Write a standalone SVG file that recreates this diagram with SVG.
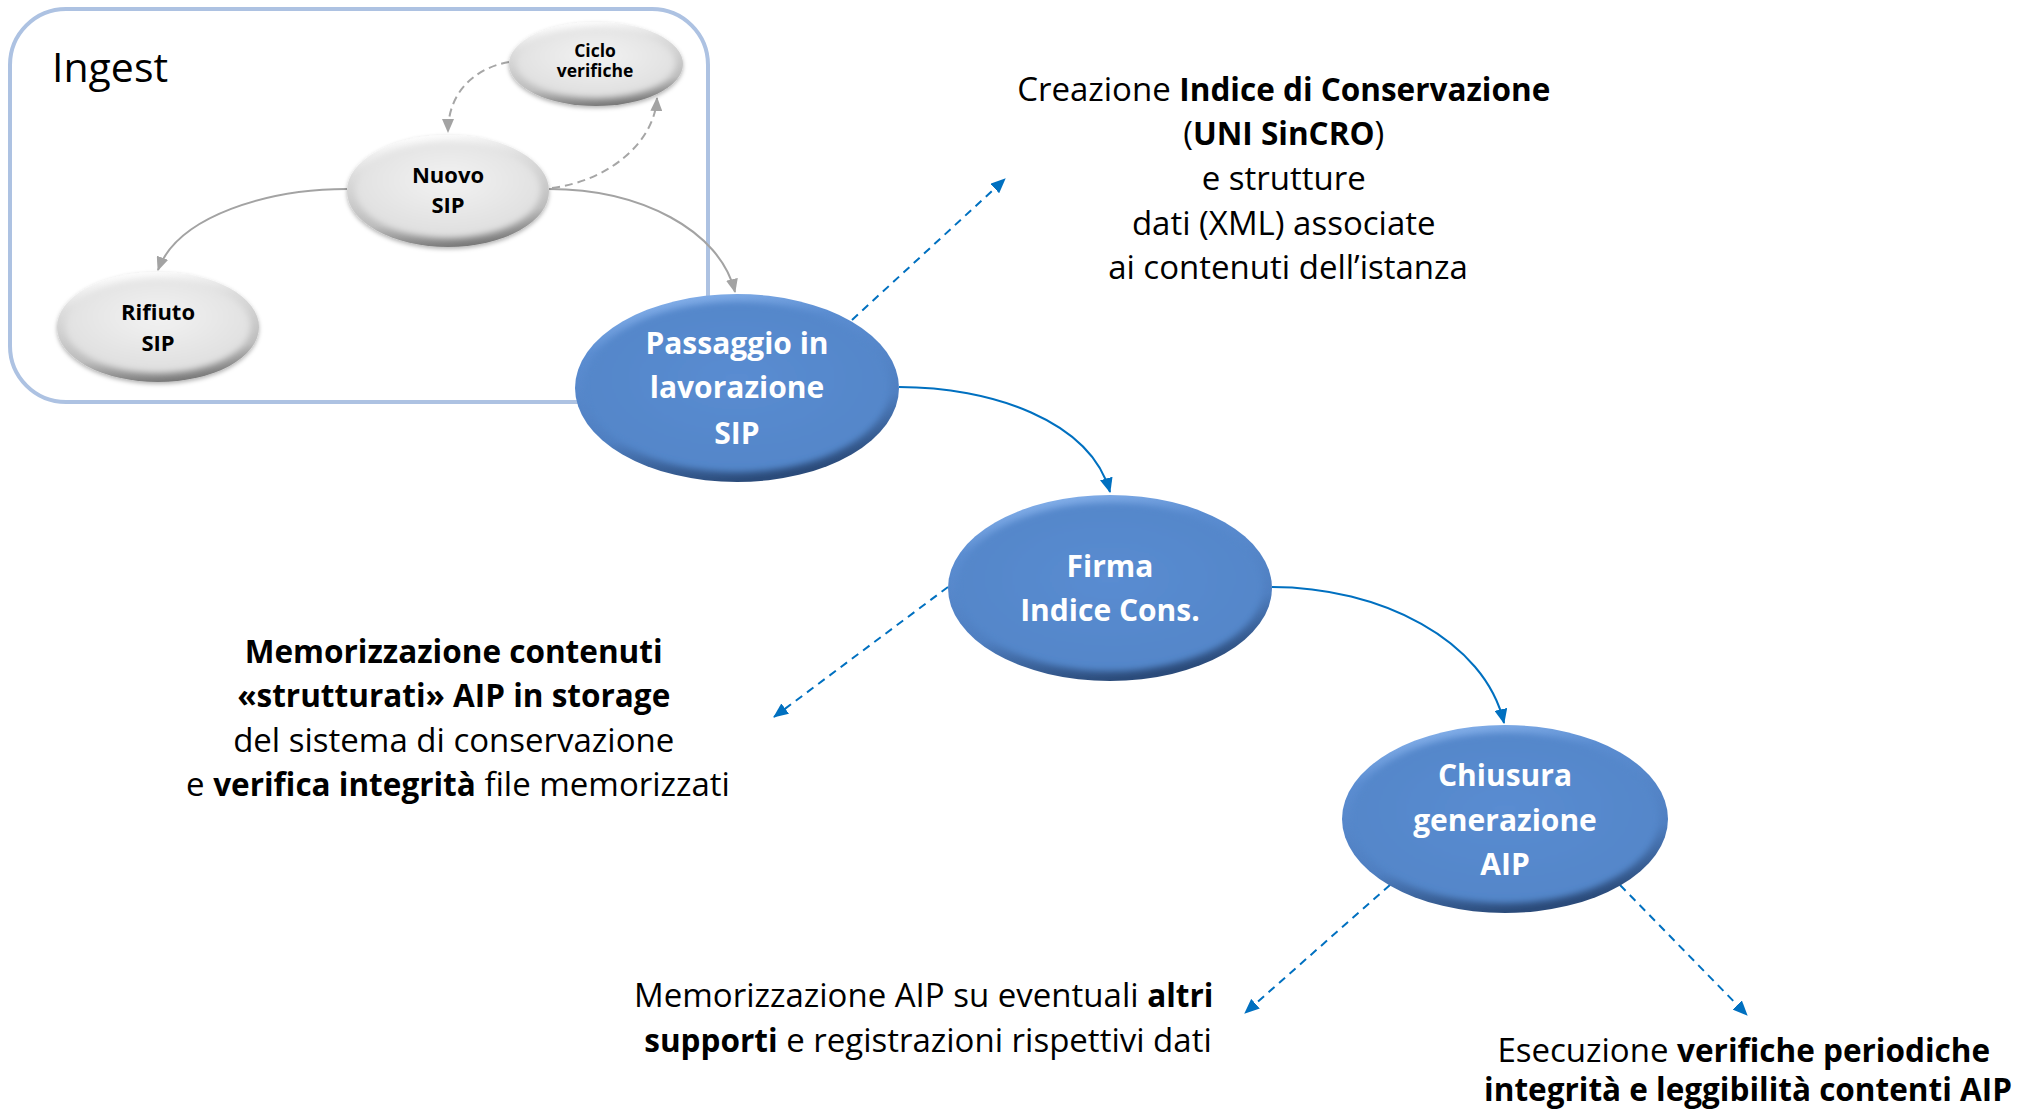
<svg xmlns="http://www.w3.org/2000/svg" width="2029" height="1111" viewBox="0 0 2029 1111">
  <style>
    text { font-family: "Open Sans", "Liberation Sans", sans-serif; }
    .desc { font-size: 33px; fill: #000; text-anchor: middle; }
    .b { font-weight: 700; font-size: 31.5px; }
    .lbl-blue { font-size: 30px; font-weight: 700; fill: #fff; text-anchor: middle; }
    .lbl-grey { font-size: 22px; font-weight: 700; fill: #000; text-anchor: middle; }
    .lbl-small { font-size: 17.5px; font-weight: 700; fill: #000; text-anchor: middle; }
    .rim-blue { fill: url(#blueRim); }
    .face-blue { fill: url(#blueFace); filter: url(#soft); }
    .rim-grey { fill: url(#greyRim); filter: url(#greyShadow); }
    .face-grey { fill: url(#greyFace); filter: url(#soft); }
    .c-grey { fill: none; stroke: #a3a3a3; stroke-width: 2; }
    .c-grey-dash { fill: none; stroke: #a6a6a6; stroke-width: 2; stroke-dasharray: 8 5; }
    .c-blue { fill: none; stroke: #0070c0; stroke-width: 2; }
    .c-blue-dash { fill: none; stroke: #0070c0; stroke-width: 2; stroke-dasharray: 8 6; }
  </style>
  <defs>
    <linearGradient id="blueRim" x1="0.2" y1="0" x2="0.5" y2="1">
      <stop offset="0" stop-color="#8cb6ee"/>
      <stop offset="0.25" stop-color="#5b8dd1"/>
      <stop offset="0.7" stop-color="#4f7fc1"/>
      <stop offset="1" stop-color="#2b4b7a"/>
    </linearGradient>
    <radialGradient id="blueFace" cx="0.5" cy="0.45" r="0.55">
      <stop offset="0" stop-color="#5a8cd1"/>
      <stop offset="1" stop-color="#5386c9"/>
    </radialGradient>
    <linearGradient id="greyRim" x1="0.3" y1="0" x2="0.5" y2="1">
      <stop offset="0" stop-color="#ffffff"/>
      <stop offset="0.3" stop-color="#dcdcdc"/>
      <stop offset="0.75" stop-color="#bcbcbc"/>
      <stop offset="1" stop-color="#7a7a7a"/>
    </linearGradient>
    <radialGradient id="greyFace" cx="0.5" cy="0.4" r="0.6">
      <stop offset="0" stop-color="#f2f2f2"/>
      <stop offset="1" stop-color="#dedede"/>
    </radialGradient>
    <filter id="soft" x="-10%" y="-10%" width="120%" height="120%">
      <feGaussianBlur stdDeviation="3"/>
    </filter>
    <filter id="greyShadow" x="-10%" y="-10%" width="120%" height="130%">
      <feDropShadow dx="0" dy="2" stdDeviation="2" flood-color="#000" flood-opacity="0.3"/>
    </filter>
    <marker id="ah-grey" viewBox="0 0 14 12" refX="13" refY="6" markerWidth="14" markerHeight="12" markerUnits="userSpaceOnUse" orient="auto">
      <path d="M0,0 L14,6 L0,12 Z" fill="#a3a3a3"/>
    </marker>
    <marker id="ah-blue" viewBox="0 0 15 13" refX="14" refY="6.5" markerWidth="15" markerHeight="13" markerUnits="userSpaceOnUse" orient="auto">
      <path d="M0,0 L15,6.5 L0,13 Z" fill="#0070c0"/>
    </marker>
  </defs>

  <!-- Ingest stage frame -->
  <g id="ingest-frame">
    <rect x="10" y="9" width="698" height="393" rx="56" ry="56" fill="none" stroke="#adc2e2" stroke-width="4"/>
    <text x="52" y="82" font-size="41" fill="#000">Ingest</text>
  </g>

  <!-- connectors -->
  <g id="connectors">
    <path class="c-grey-dash" d="M509,62 C475,68 448,92 448,132" marker-end="url(#ah-grey)"/>
    <path class="c-grey-dash" d="M552,188 C612,180 655,140 657,98" marker-end="url(#ah-grey)"/>
    <path class="c-grey" d="M347,189 C270,189 178,215 158,270" marker-end="url(#ah-grey)"/>
    <path class="c-grey" d="M549,189 C640,189 720,230 735,292" marker-end="url(#ah-grey)"/>
    <path class="c-blue" d="M899,387 C990,387 1090,420 1110,492" marker-end="url(#ah-blue)"/>
    <path class="c-blue" d="M1272,587 C1380,587 1485,640 1504,723" marker-end="url(#ah-blue)"/>
    <path class="c-blue-dash" d="M852,320 L1005,179" marker-end="url(#ah-blue)"/>
    <path class="c-blue-dash" d="M948,587 L774,717" marker-end="url(#ah-blue)"/>
    <path class="c-blue-dash" d="M1390,885 L1245,1013" marker-end="url(#ah-blue)"/>
    <path class="c-blue-dash" d="M1620,885 L1747,1015" marker-end="url(#ah-blue)"/>
  </g>

  <!-- grey ingest states -->
  <g id="n-ciclo">
    <ellipse class="rim-grey" cx="596" cy="64" rx="87" ry="42"/>
    <ellipse class="face-grey" cx="596" cy="63" rx="80" ry="35"/>
    <text class="lbl-small" x="595" y="57">Ciclo</text>
    <text class="lbl-small" x="595" y="77">verifiche</text>
  </g>
  <g id="n-nuovo">
    <ellipse class="rim-grey" cx="448" cy="191" rx="101" ry="56"/>
    <ellipse class="face-grey" cx="448" cy="190" rx="93" ry="48"/>
    <text class="lbl-grey" x="448" y="183">Nuovo</text>
    <text class="lbl-grey" x="448" y="213">SIP</text>
  </g>
  <g id="n-rifiuto">
    <ellipse class="rim-grey" cx="158" cy="327" rx="101" ry="55"/>
    <ellipse class="face-grey" cx="158" cy="326" rx="93" ry="47"/>
    <text class="lbl-grey" x="158" y="320">Rifiuto</text>
    <text class="lbl-grey" x="158" y="351">SIP</text>
  </g>

  <!-- blue process steps -->
  <g id="n-passaggio">
    <ellipse class="rim-blue" cx="737" cy="388" rx="162" ry="94"/>
    <ellipse class="face-blue" cx="737" cy="387" rx="153" ry="85"/>
    <text class="lbl-blue" x="737" y="354">Passaggio in</text>
    <text class="lbl-blue" x="737" y="398">lavorazione</text>
    <text class="lbl-blue" x="737" y="444">SIP</text>
  </g>
  <g id="n-firma">
    <ellipse class="rim-blue" cx="1110" cy="588" rx="162" ry="93"/>
    <ellipse class="face-blue" cx="1110" cy="587" rx="153" ry="84"/>
    <text class="lbl-blue" x="1110" y="577">Firma</text>
    <text class="lbl-blue" x="1110" y="621">Indice Cons.</text>
  </g>
  <g id="n-chiusura">
    <ellipse class="rim-blue" cx="1505" cy="819" rx="163" ry="94"/>
    <ellipse class="face-blue" cx="1505" cy="818" rx="154" ry="85"/>
    <text class="lbl-blue" x="1505" y="786">Chiusura</text>
    <text class="lbl-blue" x="1505" y="831">generazione</text>
    <text class="lbl-blue" x="1505" y="875">AIP</text>
  </g>

  <!-- descriptions -->
  <g id="t-indice">
    <text class="desc">
      <tspan x="1288" y="101">Creazione </tspan><tspan class="b">Indice di Conservazione</tspan>
      <tspan x="1288" y="145">(</tspan><tspan class="b">UNI SinCRO</tspan><tspan>)</tspan>
      <tspan x="1288" y="190">e strutture</tspan>
      <tspan x="1288" y="235">dati (XML) associate</tspan>
      <tspan x="1288" y="279">ai contenuti dell’istanza</tspan>
    </text>
  </g>
  <g id="t-storage">
    <text class="desc">
      <tspan x="458" y="663" class="b">Memorizzazione contenuti</tspan>
      <tspan x="458" y="707" class="b">«strutturati» AIP in storage</tspan>
      <tspan x="458" y="752">del sistema di conservazione</tspan>
      <tspan x="458" y="796">e </tspan><tspan class="b">verifica integrità</tspan><tspan> file memorizzati</tspan>
    </text>
  </g>
  <g id="t-supporti">
    <text class="desc">
      <tspan x="928" y="1007">Memorizzazione AIP su eventuali </tspan><tspan class="b">altri</tspan>
      <tspan x="928" y="1052" class="b">supporti</tspan><tspan> e registrazioni rispettivi dati</tspan>
    </text>
  </g>
  <g id="t-verifiche">
    <text class="desc">
      <tspan x="1748" y="1062">Esecuzione </tspan><tspan class="b">verifiche periodiche</tspan>
      <tspan x="1748" y="1101" class="b">integrità e leggibilità contenti AIP</tspan>
    </text>
  </g>
</svg>
